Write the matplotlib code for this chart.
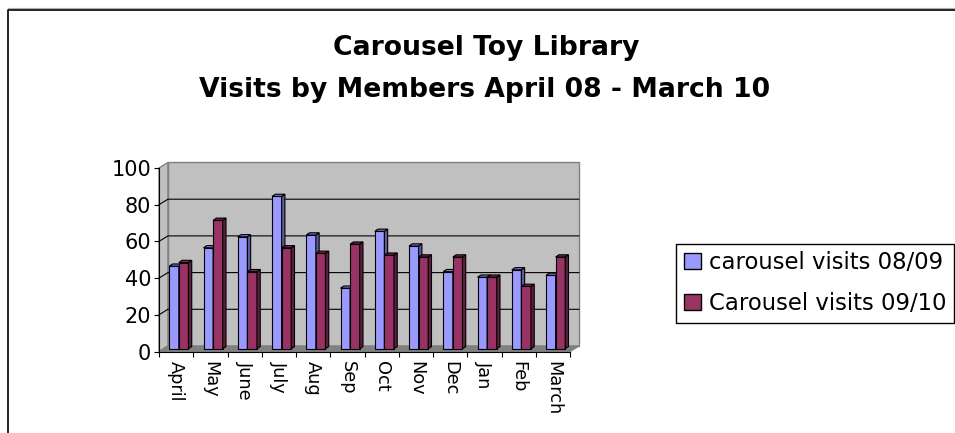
import matplotlib
matplotlib.use('Agg')

import matplotlib.pyplot as plt
from matplotlib.lines import Line2D
from matplotlib.patches import Patch
import numpy as np

months = ['April', 'May', 'June', 'July', 'Aug', 'Sep',
          'Oct', 'Nov', 'Dec', 'Jan', 'Feb', 'March']
visits_0809 = [45, 55, 61, 83, 62, 33, 64, 56, 42, 39, 43, 40]
visits_0910 = [47, 70, 42, 55, 52, 57, 51, 50, 50, 39, 34, 50]
series_labels = ['carousel visits 08/09', 'Carousel visits 09/10']
colors = ['#9999ff', '#993366']

W, H = 955, 433
fig = plt.figure(figsize=(W / 100, H / 100), dpi=100)

# outer chart border (top and left only visible)
fig.add_artist(Line2D([8 / W, 1], [1 - 8 / H, 1 - 8 / H], transform=fig.transFigure,
                      color='#b0b0b0', lw=0.8))
fig.add_artist(Line2D([8 / W, 8 / W, 1], [0, 1 - 9.5 / H, 1 - 9.5 / H],
                      transform=fig.transFigure, color='black', lw=1.2))

# titles
fig.text(486 / W, 1 - 55 / H, 'Carousel Toy Library', ha='center', va='baseline',
         fontsize=19.2, fontweight='bold')
fig.text(485 / W, 1 - 97 / H, 'Visits by Members April 08 - March 10', ha='center',
         va='baseline', fontsize=19.2, fontweight='bold')

# axes = front plane of the 3d box
ax = fig.add_axes([159 / W, (H - 351.5) / H, 411 / W, 183.5 / H])
ax.set_xlim(-0.5, 11.5)
ax.set_ylim(0, 100)
ax.patch.set_visible(False)

dx, dy = 0.26, 3.0  # depth of the box walls

# back wall, side wall, floor
ax.fill([-0.5 + dx, 11.5 + dx, 11.5 + dx, -0.5 + dx], [dy, dy, 100 + dy, 100 + dy],
        fc='#c0c0c0', ec='#808080', lw=1, clip_on=False, zorder=0)
ax.fill([-0.5, -0.5 + dx, -0.5 + dx, -0.5], [0, dy, 100 + dy, 100],
        fc='#c0c0c0', ec='#808080', lw=1, clip_on=False, zorder=0)
ax.fill([-0.5, 11.5, 11.5 + dx, -0.5 + dx], [0, 0, dy, dy],
        fc='#808080', ec='#808080', lw=1, clip_on=False, zorder=0)

for v in [20, 40, 60, 80]:
    ax.plot([-0.5, -0.5 + dx, 11.5 + dx], [v, v + dy, v + dy], color='black',
            lw=0.8, clip_on=False, zorder=1)

# bars with fake 3d faces
x = np.arange(len(months))
w = 0.28
bx, by = 0.08, 1.5      # where the bars sit in the depth
ddx, ddy = 0.096, 1.2   # bar depth


def shade(c, f):
    r, g, b = matplotlib.colors.to_rgb(c)
    return (r * f, g * f, b * f)


for s, vals in enumerate([visits_0809, visits_0910]):
    c = colors[s]
    left = x - w + s * w + bx
    ax.bar(left, vals, width=w, bottom=by, align='edge', color=c, ec='black',
           lw=0.8, zorder=2 + s, clip_on=False)
    for l, h in zip(left, vals):
        top = by + h
        ax.fill([l + w, l + w + ddx, l + w + ddx, l + w],
                [by, by + ddy, top + ddy, top],
                fc=shade(c, 0.6), ec='black', lw=0.8, zorder=2 + s, clip_on=False)
        ax.fill([l, l + w, l + w + ddx, l + ddx],
                [top, top, top + ddy, top + ddy],
                fc=shade(c, 0.8), ec='black', lw=0.8, zorder=2 + s, clip_on=False)

# axes lines and ticks
for side in ['top', 'right']:
    ax.spines[side].set_visible(False)
for side in ['left', 'bottom']:
    ax.spines[side].set_color('black')
    ax.spines[side].set_linewidth(0.8)
    ax.spines[side].set_zorder(5)

ax.set_yticks(range(0, 101, 20))
ax.tick_params(axis='y', direction='out', length=3.6, width=0.8, labelsize=15, pad=2)
ax.set_xticks(np.arange(-0.5, 12, 1))
ax.set_xticklabels([])
ax.tick_params(axis='x', which='major', direction='out', length=3.6, width=0.8)
ax.set_xticks(x, minor=True)
ax.set_xticklabels(months, minor=True, rotation=-90, fontsize=12.8)
ax.tick_params(axis='x', which='minor', length=0, pad=6.8)

# legend
handles = [Patch(fc=colors[0], ec='black'), Patch(fc=colors[1], ec='black')]
leg = fig.legend(handles, series_labels, loc='upper left',
                 bbox_to_anchor=(676.3 / W, 1 - 243.5 / H), fontsize=16.4,
                 frameon=True, fancybox=False, edgecolor='black', framealpha=1,
                 handlelength=0.73, handleheight=0.73, handletextpad=0.37,
                 labelspacing=0.77, borderpad=0.34, borderaxespad=0)
leg.get_frame().set_linewidth(1)

fig.savefig('out.png', dpi=100)
